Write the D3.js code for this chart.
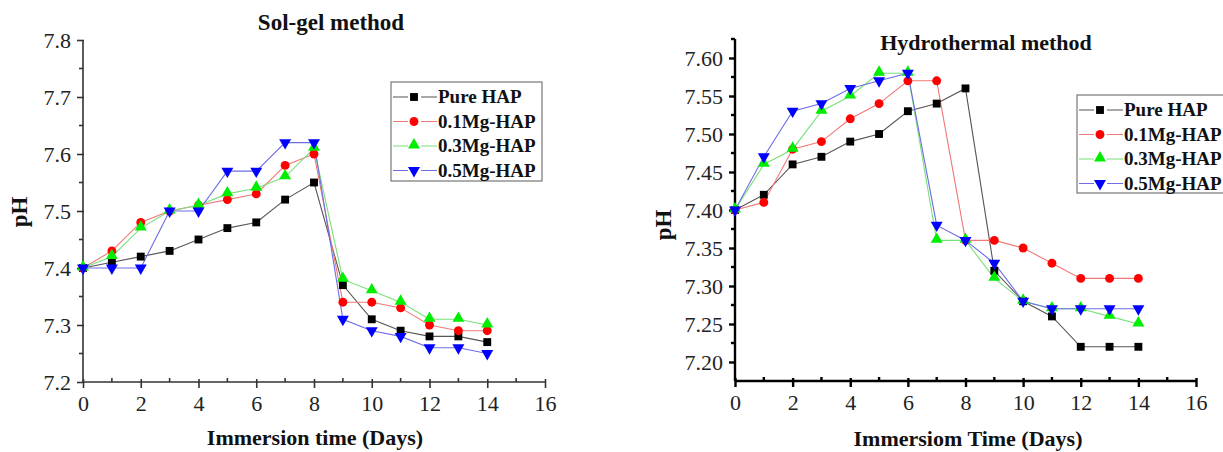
<!DOCTYPE html>
<html><head><meta charset="utf-8">
<script src="https://cdn.jsdelivr.net/npm/d3@7"></script>
<style>html,body{margin:0;padding:0;background:#fff;} svg{display:block;} text{font-family:'Liberation Serif','Times New Roman',serif;}</style>
</head><body>
<svg id="c" width="1223" height="452"></svg>
<script>
const days = [0,1,2,3,4,5,6,7,8,9,10,11,12,13,14];
const seriesNames = ["Pure HAP","0.1Mg-HAP","0.3Mg-HAP","0.5Mg-HAP"];
// Sol-gel method
const solPure = [7.40,7.41,7.42,7.43,7.45,7.47,7.48,7.52,7.55,7.37,7.31,7.29,7.28,7.28,7.27];
const sol01 = [7.40,7.43,7.48,7.50,7.51,7.52,7.53,7.58,7.60,7.34,7.34,7.33,7.30,7.29,7.29];
const sol03 = [7.40,7.42,7.47,7.50,7.51,7.53,7.54,7.56,7.61,7.38,7.36,7.34,7.31,7.31,7.30];
const sol05 = [7.40,7.40,7.40,7.50,7.50,7.57,7.57,7.62,7.62,7.31,7.29,7.28,7.26,7.26,7.25];
// Hydrothermal method
const hydPure = [7.40,7.42,7.46,7.47,7.49,7.50,7.53,7.54,7.56,7.32,7.28,7.26,7.22,7.22,7.22];
const hyd01 = [7.40,7.41,7.48,7.49,7.52,7.54,7.57,7.57,7.36,7.36,7.35,7.33,7.31,7.31,7.31];
const hyd03 = [7.40,7.46,7.48,7.53,7.55,7.58,7.58,7.36,7.36,7.31,7.28,7.27,7.27,7.26,7.25];
const hyd05 = [7.40,7.47,7.53,7.54,7.56,7.57,7.58,7.38,7.36,7.33,7.28,7.27,7.27,7.27,7.27];
const xTicks = [0,2,4,6,8,10,12,14,16];
const solYTicks = [7.2,7.3,7.4,7.5,7.6,7.7,7.8];
const hydYTicks = [7.20,7.25,7.30,7.35,7.40,7.45,7.50,7.55,7.60];

const lineColors = ["#555555","#f07878","#78e078","#6c6ce8"];
const markColors = ["#000000","#ff0000","#00ee00","#0000ff"];
const symTypes = [d3.symbolSquare, d3.symbolCircle, d3.symbolTriangle, d3.symbolTriangle];
const FONT = "'Liberation Serif','Times New Roman',serif";

const svg = d3.select("#c");

function marker(g, i, x, y){
  const p = g.append("path")
    .attr("d", d3.symbol().type(symTypes[i]).size(62)())
    .attr("fill", markColors[i]);
  if(i===3) p.attr("transform",`translate(${x},${y}) rotate(180)`);
  else if(i===2) p.attr("transform",`translate(${x},${y-1})`);
  else p.attr("transform",`translate(${x},${y})`);
}

function drawChart(cfg){
  const g = svg.append("g");
  const x = d3.scaleLinear().domain([0,16]).range(cfg.xr);
  const y = d3.scaleLinear().domain(cfg.yd).range(cfg.yr);
  const axisW = cfg.axisW, axisC = cfg.axisC;
  // y axis
  const yAx = g.append("g").attr("transform",`translate(${cfg.xr[0]},0)`)
    .call(d3.axisLeft(y).tickValues(cfg.yTicks).tickFormat(cfg.yFmt).tickSize(6).tickSizeOuter(0));
  yAx.attr("font-family",null).attr("font-size",null);
  yAx.select(".domain").remove();
  yAx.selectAll(".tick line").attr("stroke",axisC).attr("stroke-width",axisW).attr("x2",-6).attr("x1",1);
  yAx.selectAll(".tick text").style("font-family",FONT).style("font-size","22px").attr("fill","#222").attr("dx",-3);
  // minor y
  g.append("g").selectAll("line").data(cfg.yMinor).join("line")
    .attr("x1",cfg.xr[0]-4).attr("x2",cfg.xr[0]).attr("y1",d=>y(d)).attr("y2",d=>y(d))
    .attr("stroke",axisC).attr("stroke-width",axisW);
  g.append("line").attr("x1",cfg.xr[0]).attr("x2",cfg.xr[0]).attr("y1",cfg.yr[0]).attr("y2",cfg.yr[1])
    .attr("stroke",axisC).attr("stroke-width",axisW);
  // x axis
  const xAx = g.append("g").attr("transform",`translate(0,${cfg.yr[0]})`)
    .call(d3.axisBottom(x).tickValues(xTicks).tickSize(6).tickSizeOuter(0));
  xAx.attr("font-family",null).attr("font-size",null);
  xAx.select(".domain").remove();
  xAx.selectAll(".tick line").attr("stroke",axisC).attr("stroke-width",axisW).attr("y1",-3).attr("y2",6);
  xAx.selectAll(".tick text").style("font-family",FONT).style("font-size","22px").attr("fill","#222").attr("dy","0.95em").attr("y",8);
  g.append("g").selectAll("line").data(d3.range(1,16,2)).join("line")
    .attr("x1",d=>x(d)).attr("x2",d=>x(d)).attr("y1",cfg.yr[0]-4).attr("y2",cfg.yr[0])
    .attr("stroke",axisC).attr("stroke-width",axisW);
  g.append("line").attr("x1",cfg.xr[0]).attr("x2",cfg.xr[1]).attr("y1",cfg.yr[0]).attr("y2",cfg.yr[0])
    .attr("stroke",axisC).attr("stroke-width",axisW);

  // lines
  const line = d3.line().x((d,i)=>x(days[i])).y(d=>y(d));
  cfg.series.forEach((s,i)=>{
    g.append("path").datum(s).attr("d",line).attr("fill","none")
      .attr("stroke",lineColors[i]).attr("stroke-width",1.1);
  });
  cfg.series.forEach((s,i)=>{
    s.forEach((v,j)=>marker(g,i,x(days[j]),y(v)));
  });

  // titles
  g.append("text").attr("x",cfg.titlePos[0]).attr("y",cfg.titlePos[1]).attr("text-anchor","middle")
    .style("font-family",FONT).attr("font-weight","bold").style("font-size",cfg.titleSize+"px").attr("fill","#111").text(cfg.title);
  g.append("text").attr("x",cfg.xTitlePos[0]).attr("y",cfg.xTitlePos[1]).attr("text-anchor","middle")
    .style("font-family",FONT).attr("font-weight","bold").style("font-size","22px").attr("fill","#111").text(cfg.xTitle);
  g.append("text").attr("transform",`translate(${cfg.yTitlePos[0]},${cfg.yTitlePos[1]}) rotate(-90)`)
    .attr("text-anchor","middle").style("font-family",FONT).attr("font-weight","bold").style("font-size","23px").attr("fill","#111").text("pH");

  // legend
  const L = cfg.legend;
  g.append("rect").attr("x",L.x).attr("y",L.y).attr("width",L.w).attr("height",L.h)
    .attr("fill","#fff").attr("stroke","#777").attr("stroke-width",1.2);
  seriesNames.forEach((n,i)=>{
    const yy = L.y + 15 + i*L.step;
    g.append("line").attr("x1",L.x+2).attr("x2",L.x+46).attr("y1",yy).attr("y2",yy)
      .attr("stroke",lineColors[i]).attr("stroke-width",1.1);
    g.append("rect").attr("x",L.x+17).attr("y",yy-5).attr("width",13).attr("height",10).attr("fill","#fff");
    marker(g,i,L.x+23,yy);
    g.append("text").attr("x",L.x+47).attr("y",yy+6).style("font-family",FONT).attr("font-weight","bold")
      .style("font-size","19px").attr("fill","#111").text(n);
  });
}

drawChart({
  xr:[83,545], yd:[7.2,7.8], yr:[382,40],
  yTicks: solYTicks, yFmt: d3.format(".1f"), yMinor:[7.25,7.35,7.45,7.55,7.65,7.75],
  axisW:1.6, axisC:"#333",
  series:[solPure,sol01,sol03,sol05],
  title:"Sol-gel method", titlePos:[331,30], titleSize:23,
  xTitle:"Immersion time (Days)", xTitlePos:[315,445],
  yTitlePos:[27,212],
  legend:{x:391,y:82,w:151,h:99,step:24.5}
});
drawChart({
  xr:[735,1196], yd:[7.175,7.625], yr:[381,39],
  yTicks: hydYTicks, yFmt: d3.format(".2f"), yMinor:[7.225,7.275,7.325,7.375,7.425,7.475,7.525,7.575,7.625],
  axisW:2.4, axisC:"#000",
  series:[hydPure,hyd01,hyd03,hyd05],
  title:"Hydrothermal method", titlePos:[986,50], titleSize:22,
  xTitle:"Immersiom Time (Days)", xTitlePos:[968,446],
  yTitlePos:[671,225],
  legend:{x:1077,y:95,w:150,h:98,step:24.5}
});
</script>
</body></html>
